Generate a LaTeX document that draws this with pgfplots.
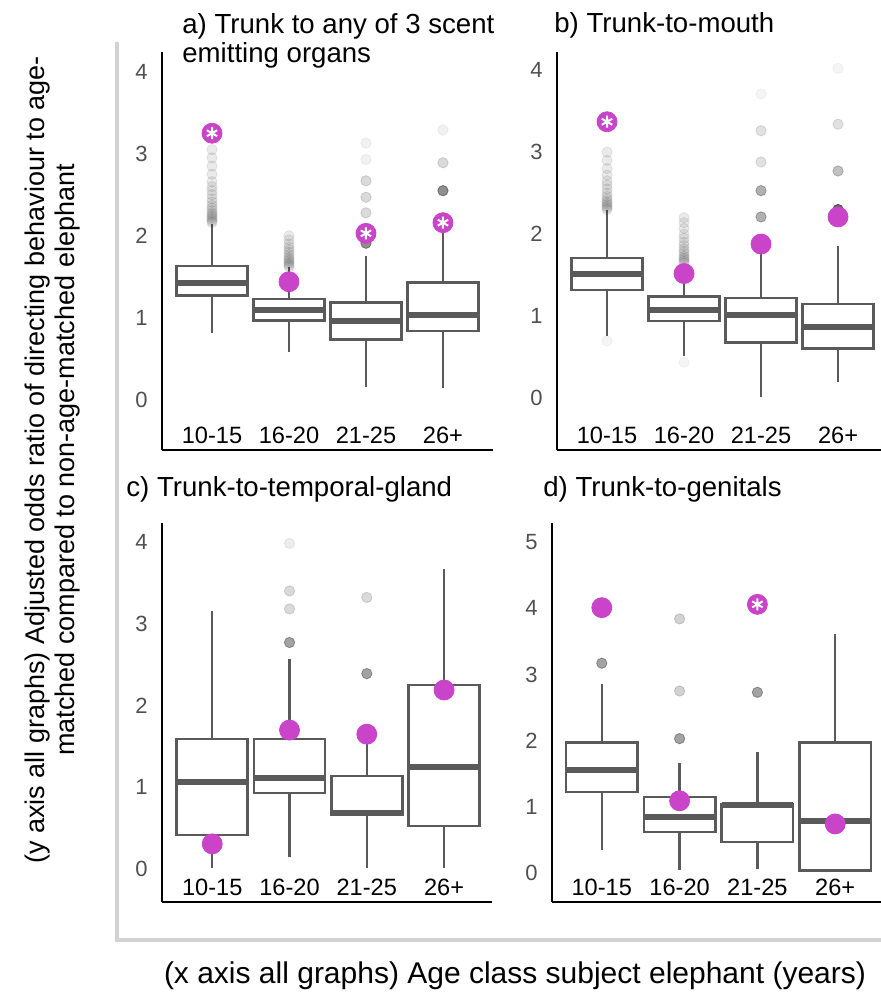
\documentclass[border=0pt]{standalone}
\usepackage{fontspec}
\setmainfont{Liberation Sans}
\usepackage{pgfplots}
\pgfplotsset{compat=1.18}
\usepgfplotslibrary{statistics}
\definecolor{boxgray}{RGB}{90,90,90}
\definecolor{pinkd}{RGB}{201,68,201}
\definecolor{tickgray}{RGB}{80,80,80}
\pgfplotsset{
 ebox/.style={
  scale only axis, axis lines*=left,
  axis line style={line width=1.2pt,black},
  major tick length=0pt,
  xtick={0,1,2,3}, xticklabels={10-15,16-20,21-25,26+},
  xticklabel style={anchor=center, yshift=7.5pt, font=\fontsize{11.8}{13}\selectfont},
  yticklabel style={font=\fontsize{11}{13}\selectfont, text=tickgray, xshift=-3.7pt},
  /pgf/number format/assume math mode=true,
  clip=false,
  boxplot/draw direction=y,
  boxplot/every box/.style={draw=boxgray, line width=1.3pt, fill=white},
  boxplot/every median/.style={draw=boxgray, line width=3pt},
  boxplot/every whisker/.style={draw=boxgray, line width=1.2pt},
  boxplot/box extend=0.92, boxplot/whisker extend=0,
 },
 outl/.style={only marks, mark=*, mark size=2.6pt, color=black!80, mark options={draw=none}},
 pinkpt/.style={only marks, mark=*, mark size=5pt, color=pinkd, mark options={draw=none}},
 star/.style={only marks, mark=asterisk, mark size=3pt, color=white, mark options={line width=1pt}},
}
\begin{document}
\begin{tikzpicture}
\useasboundingbox (0,0) rectangle (440.5pt,499pt);
% gray frame
\draw[gray!35, line width=2pt] (58.5pt,478pt) -- (58.5pt,29pt) -- (441pt,29pt);
% titles
\node[anchor=base west, inner sep=0pt, font=\fontsize{13.8}{16}\selectfont] at (91pt,482pt) {a) Trunk to any of 3 scent};
\node[anchor=base west, inner sep=0pt, font=\fontsize{13.8}{16}\selectfont] at (91pt,467.5pt) {emitting organs};
\node[anchor=base west, inner sep=0pt, font=\fontsize{13.8}{16}\selectfont] at (277pt,482.5pt) {b) Trunk-to-mouth};
\node[anchor=base west, inner sep=0pt, font=\fontsize{13.8}{16}\selectfont] at (63pt,250.5pt) {c) Trunk-to-temporal-gland};
\node[anchor=base west, inner sep=0pt, font=\fontsize{13.8}{16}\selectfont] at (271.5pt,250.5pt) {d) Trunk-to-genitals};
% axis titles
\node[rotate=90, align=center, font=\fontsize{13.5}{15}\selectfont] at (26.5pt,269pt)
 {(y axis all graphs) Adjusted odds ratio of directing behaviour to age-\\matched compared to non-age-matched elephant};
\node[font=\fontsize{15}{17}\selectfont] at (257.5pt,11pt) {(x axis all graphs) Age class subject elephant (years)};

% ---------- panel a ----------
\begin{axis}[ebox, at={(81pt,274pt)}, anchor=south west, width=165.5pt, height=199pt,
  xmin=-0.65, xmax=3.65, ymin=-0.61, ymax=4.24, ytick={0,1,2,3,4}]
\addplot[boxplot prepared={draw position=0, lower whisker=0.81, lower quartile=1.27, median=1.43, upper quartile=1.63, upper whisker=2.15}] coordinates {};
\addplot[boxplot prepared={draw position=1, lower whisker=0.59, lower quartile=0.97, median=1.09, upper quartile=1.23, upper whisker=1.62}] coordinates {};
\addplot[boxplot prepared={draw position=2, lower whisker=0.16, lower quartile=0.74, median=0.96, upper quartile=1.19, upper whisker=1.75}] coordinates {};
\addplot[boxplot prepared={draw position=3, lower whisker=0.14, lower quartile=0.84, median=1.03, upper quartile=1.43, upper whisker=2.15}] coordinates {};
\addplot[outl, opacity=0.1] coordinates {(0,2.16)(0,2.18)(0,2.20)(0,2.22)(0,2.24)(0,2.26)(0,2.28)(0,2.31)(0,2.34)(0,2.37)(0,2.41)(0,2.45)(0,2.50)(0,2.55)(0,2.60)(0,2.66)(0,2.75)(0,2.85)(0,2.95)(0,3.05)
 (1,1.62)(1,1.64)(1,1.66)(1,1.68)(1,1.70)(1,1.72)(1,1.74)(1,1.77)(1,1.80)(1,1.83)(1,1.86)(1,1.90)(1,1.95)(1,2.00)};
\addplot[outl, opacity=0.55] coordinates {(2,1.91)(3,2.55)};
\addplot[outl, opacity=0.18] coordinates {(2,2.28)(2,2.47)(2,2.67)(3,2.89)};
\addplot[outl, opacity=0.07] coordinates {(2,2.93)(2,3.13)(3,3.29)};
\addplot[pinkpt] coordinates {(0,3.25)(1,1.44)(2,2.03)(3,2.16)};
\addplot[star] coordinates {(0,3.25)(2,2.03)(3,2.16)};
\end{axis}

% ---------- panel b ----------
\begin{axis}[ebox, at={(278.5pt,274pt)}, anchor=south west, width=164pt, height=199pt,
  xmin=-0.65, xmax=3.61, ymin=-0.63, ymax=4.22, ytick={0,1,2,3,4}]
\addplot[boxplot prepared={draw position=0, lower whisker=0.76, lower quartile=1.32, median=1.52, upper quartile=1.71, upper whisker=2.30}] coordinates {};
\addplot[boxplot prepared={draw position=1, lower whisker=0.51, lower quartile=0.94, median=1.08, upper quartile=1.24, upper whisker=1.62}] coordinates {};
\addplot[boxplot prepared={draw position=2, lower whisker=0.02, lower quartile=0.68, median=1.02, upper quartile=1.22, upper whisker=1.88}] coordinates {};
\addplot[boxplot prepared={draw position=3, lower whisker=0.20, lower quartile=0.61, median=0.87, upper quartile=1.15, upper whisker=1.85}] coordinates {};
\addplot[outl, opacity=0.1] coordinates {(0,2.30)(0,2.32)(0,2.34)(0,2.36)(0,2.38)(0,2.40)(0,2.43)(0,2.46)(0,2.50)(0,2.55)(0,2.60)(0,2.65)(0,2.72)(0,2.80)(0,2.90)(0,3.00)
 (1,1.65)(1,1.67)(1,1.69)(1,1.71)(1,1.73)(1,1.76)(1,1.79)(1,1.82)(1,1.86)(1,1.90)(1,1.95)(1,2.00)(1,2.07)(1,2.14)(1,2.20)};
\addplot[outl, opacity=0.05] coordinates {(0,0.70)(1,0.44)(2,3.71)(3,4.02)};
\addplot[outl, opacity=0.38] coordinates {(2,2.21)(2,2.53)};
\addplot[outl, opacity=0.15] coordinates {(2,2.88)(2,3.26)(3,3.34)};
\addplot[outl, opacity=0.3] coordinates {(3,2.77)};
\addplot[outl, opacity=0.75] coordinates {(3,2.30)};
\addplot[pinkpt] coordinates {(0,3.37)(1,1.52)(2,1.88)(3,2.21)};
\addplot[star] coordinates {(0,3.37)};
\end{axis}

% ---------- panel c ----------
\begin{axis}[ebox, at={(81pt,48pt)}, anchor=south west, width=165pt, height=189.5pt,
  xmin=-0.65, xmax=3.62, ymin=-0.40, ymax=4.23, ytick={0,1,2,3,4}]
\addplot[boxplot prepared={draw position=0, lower whisker=0.02, lower quartile=0.42, median=1.06, upper quartile=1.59, upper whisker=3.16}] coordinates {};
\addplot[boxplot prepared={draw position=1, lower whisker=0.15, lower quartile=0.93, median=1.11, upper quartile=1.59, upper whisker=2.57}] coordinates {};
\addplot[boxplot prepared={draw position=2, lower whisker=0.02, lower quartile=0.67, median=0.69, upper quartile=1.14, upper whisker=1.55}] coordinates {};
\addplot[boxplot prepared={draw position=3, lower whisker=0.02, lower quartile=0.53, median=1.25, upper quartile=2.25, upper whisker=3.67}] coordinates {};
\addplot[outl, opacity=0.45] coordinates {(1,2.77)(2,2.39)};
\addplot[outl, opacity=0.18] coordinates {(1,3.18)(1,3.40)(2,3.32)};
\addplot[outl, opacity=0.09] coordinates {(1,3.98)};
\addplot[pinkpt] coordinates {(0,0.31)(1,1.70)(2,1.65)(3,2.19)};
\end{axis}

% ---------- panel d ----------
\begin{axis}[ebox, at={(276pt,48pt)}, anchor=south west, width=166.5pt, height=189.5pt,
  xmin=-0.64, xmax=3.64, ymin=-0.44, ymax=5.29, ytick={0,1,2,3,4,5}]
\addplot[boxplot prepared={draw position=0, lower whisker=0.35, lower quartile=1.22, median=1.56, upper quartile=1.97, upper whisker=2.86}] coordinates {};
\addplot[boxplot prepared={draw position=1, lower whisker=0.05, lower quartile=0.62, median=0.84, upper quartile=1.15, upper whisker=1.66}] coordinates {};
\addplot[boxplot prepared={draw position=2, lower whisker=0.06, lower quartile=0.47, median=1.02, upper quartile=1.04, upper whisker=1.83}] coordinates {};
\addplot[boxplot prepared={draw position=3, lower whisker=0.04, lower quartile=0.04, median=0.79, upper quartile=1.97, upper whisker=3.61}] coordinates {};
\addplot[outl, opacity=0.45] coordinates {(0,3.17)(1,2.03)(2,2.73)};
\addplot[outl, opacity=0.85] coordinates {(0,4.03)};
\addplot[outl, opacity=0.22] coordinates {(1,2.75)(1,3.84)};
\addplot[pinkpt] coordinates {(0,4.01)(1,1.09)(2,4.06)(3,0.74)};
\addplot[star] coordinates {(2,4.06)};
\end{axis}
\end{tikzpicture}
\end{document}
